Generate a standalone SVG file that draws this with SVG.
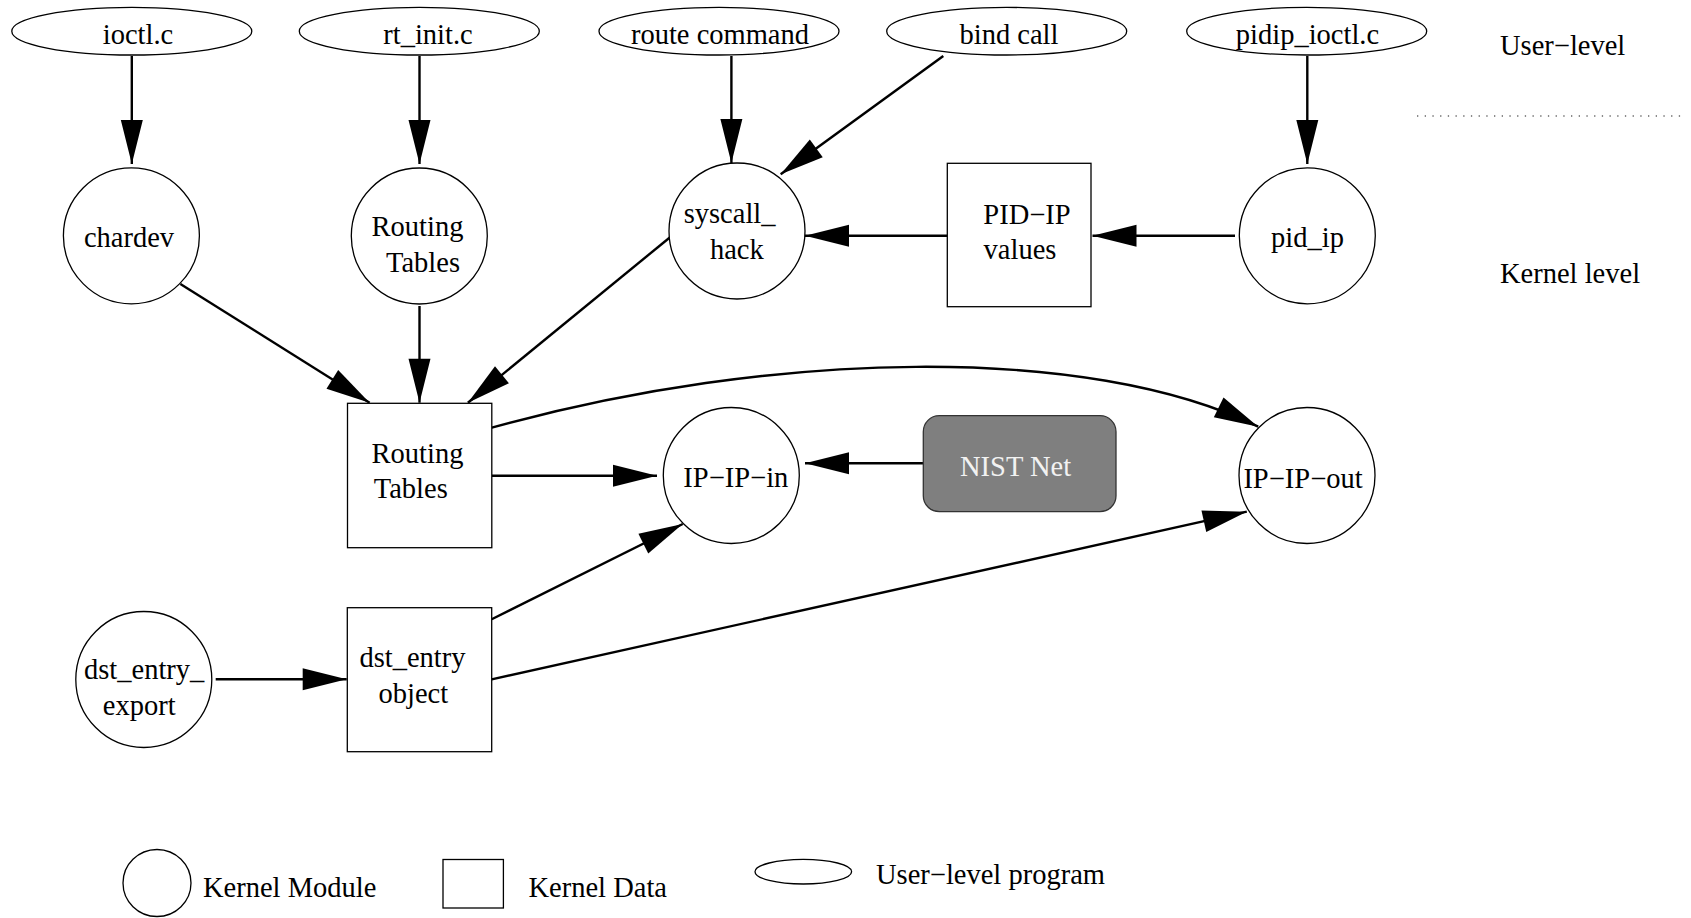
<svg xmlns="http://www.w3.org/2000/svg" width="1691" height="918" viewBox="0 0 1691 918">
  <style>
    text { font-family: "Liberation Serif", "Times New Roman", serif; font-size: 28.5px; fill: #000; }
    .mid { text-anchor: middle; }
    .node { fill: #fff; stroke: #000; stroke-width: 1.3; }
    .edge { fill: none; stroke: #000; stroke-width: 2.4; marker-end: url(#arrow); }
    .light { fill: #f2f2f2; }
  </style>
  <defs>
    <marker id="arrow" markerUnits="userSpaceOnUse" markerWidth="44" markerHeight="22" refX="44" refY="11" orient="auto" overflow="visible">
      <path d="M0,0 L44,11 L0,22 z" fill="#000"/>
    </marker>
  </defs>
  <rect width="1691" height="918" fill="#fff"/>

  <!-- connectors -->
  <g id="edges">
    <path class="edge" d="M131.8,56 L131.8,164"/>
    <path class="edge" d="M419.5,56 L419.5,164"/>
    <path class="edge" d="M731.4,56 L731.4,163"/>
    <path class="edge" d="M943.3,56 L780.7,174.3"/>
    <path class="edge" d="M1307.3,56 L1307.3,164"/>
    <path class="edge" d="M1235,235.7 L1092.5,235.7"/>
    <path class="edge" d="M947.3,235.7 L805,235.7"/>
    <path class="edge" d="M180.4,284 L369.6,402.7"/>
    <path class="edge" d="M419.5,306 L419.5,402.7"/>
    <path class="edge" d="M670.7,236.7 L467.9,402.7"/>
    <path class="edge" d="M491.8,475.7 L657,475.7"/>
    <path class="edge" d="M923.3,463.3 L805,463.3"/>
    <path class="edge" d="M491.8,427.7 C771.8,350 1088,343.4 1258.2,426.7"/>
    <path class="edge" d="M491.7,619.3 L682.7,524"/>
    <path class="edge" d="M491.7,679.3 L1246.8,511.7"/>
    <path class="edge" d="M215.7,679.3 L346.7,679.3"/>
  </g>

  <!-- user-level programs -->
  <g id="ioctl_c">
    <ellipse class="node" cx="131.8" cy="31.2" rx="120" ry="23.8"/>
    <text class="mid" x="138" y="44">ioctl.c</text>
  </g>
  <g id="rt_init_c">
    <ellipse class="node" cx="419.3" cy="31.2" rx="120" ry="23.8"/>
    <text class="mid" x="428" y="44">rt_init.c</text>
  </g>
  <g id="route_command">
    <ellipse class="node" cx="719" cy="31.2" rx="120" ry="23.8"/>
    <text class="mid" x="720" y="44">route command</text>
  </g>
  <g id="bind_call">
    <ellipse class="node" cx="1006.7" cy="31.2" rx="120" ry="23.8"/>
    <text class="mid" x="1009" y="44">bind call</text>
  </g>
  <g id="pidip_ioctl_c">
    <ellipse class="node" cx="1306.7" cy="31.2" rx="120" ry="23.8"/>
    <text class="mid" x="1307.5" y="44">pidip_ioctl.c</text>
  </g>

  <!-- kernel modules -->
  <g id="chardev">
    <circle class="node" cx="131.4" cy="235.8" r="68"/>
    <text class="mid" x="129" y="246.7">chardev</text>
  </g>
  <g id="routing_tables_module">
    <circle class="node" cx="419.3" cy="236" r="68"/>
    <text class="mid" x="417.5" y="235.5">Routing</text>
    <text class="mid" x="423" y="271.5">Tables</text>
  </g>
  <g id="syscall_hack">
    <circle class="node" cx="737" cy="231" r="68"/>
    <text class="mid" x="729.6" y="222.7">syscall_</text>
    <text class="mid" x="736.8" y="259.3">hack</text>
  </g>
  <g id="pid_ip">
    <circle class="node" cx="1307.3" cy="235.8" r="68"/>
    <text class="mid" x="1307.5" y="246.7">pid_ip</text>
  </g>
  <g id="ip_ip_in">
    <circle class="node" cx="731.3" cy="475.5" r="68"/>
    <text class="mid" x="735.8" y="487.3">IP−IP−in</text>
  </g>
  <g id="ip_ip_out">
    <circle class="node" cx="1307" cy="475.5" r="68"/>
    <text class="mid" x="1303" y="487.7">IP−IP−out</text>
  </g>
  <g id="dst_entry_export">
    <circle class="node" cx="143.8" cy="679.5" r="68"/>
    <text class="mid" x="144.2" y="679.3">dst_entry_</text>
    <text class="mid" x="139.2" y="715">export</text>
  </g>

  <!-- kernel data -->
  <g id="pid_ip_values">
    <rect class="node" x="947.3" y="163.3" width="143.7" height="143.4"/>
    <text class="mid" x="1027" y="224">PID−IP</text>
    <text class="mid" x="1020" y="259.3">values</text>
  </g>
  <g id="routing_tables_data">
    <rect class="node" x="347.5" y="403.3" width="144.3" height="144.4"/>
    <text class="mid" x="417.5" y="463.3">Routing</text>
    <text class="mid" x="410.8" y="498.3">Tables</text>
  </g>
  <g id="dst_entry_object">
    <rect class="node" x="347.3" y="607.7" width="144.4" height="144"/>
    <text class="mid" x="412.5" y="667.3">dst_entry</text>
    <text class="mid" x="413.3" y="702.7">object</text>
  </g>

  <!-- external module -->
  <g id="nist_net">
    <rect x="923.3" y="415.7" width="192.7" height="96" rx="16" ry="16" fill="#7f7f7f" stroke="#333" stroke-width="1.3"/>
    <text class="mid light" x="1015.5" y="475.7">NIST Net</text>
  </g>

  <!-- level labels and divider -->
  <g id="levels">
    <text x="1500" y="55">User−level</text>
    <line x1="1417" y1="116" x2="1681" y2="116" stroke="#666" stroke-width="1.3" stroke-dasharray="1.3 6.4"/>
    <text x="1500" y="283.3">Kernel level</text>
  </g>

  <!-- legend -->
  <g id="legend">
    <ellipse class="node" cx="157" cy="883" rx="34" ry="33.5"/>
    <text x="203" y="896.5">Kernel Module</text>
    <rect class="node" x="443" y="859.5" width="60.4" height="48.5"/>
    <text x="528.5" y="896.5">Kernel Data</text>
    <ellipse class="node" cx="803.3" cy="871.7" rx="48.3" ry="12.3"/>
    <text x="876" y="884">User−level program</text>
  </g>
</svg>
